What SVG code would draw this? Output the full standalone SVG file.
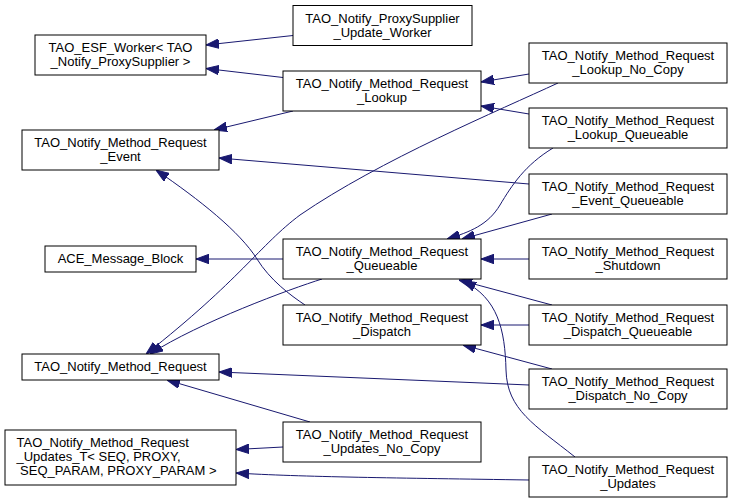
<svg xmlns="http://www.w3.org/2000/svg" width="732" height="504" viewBox="0 0 732 504">
<style>
.n rect{fill:#fff;stroke:#000;stroke-width:1}
.n text{font-family:"Liberation Sans",Arial,Helvetica,sans-serif;font-size:13px;fill:#000;text-anchor:middle}
.n text.l{text-anchor:start}
#edges path{fill:none;stroke:#191970;stroke-width:1;marker-end:url(#ah)}
</style>
<defs>
<marker id="ah" markerUnits="userSpaceOnUse" markerWidth="13" markerHeight="10" refX="13" refY="4.75" orient="auto" viewBox="0 0 13 9.5">
<path d="M0,0 L13,4.75 L0,9.5 z" fill="#191970" stroke="#191970" stroke-width="1"/>
</marker>
</defs>
<rect width="732" height="504" fill="#fff"/>
<g id="edges">
<path d="M293,35.5 L206,45"/>
<path d="M283,77.5 L206,68.5"/>
<path d="M293,111 L214,130"/>
<path d="M529,184 L219,158"/>
<path d="M283,259 L196,259"/>
<path d="M305,305 C290,295 270,280 257,259 C240,232 200,200 156,170"/>
<path d="M322,279 C290,289 200,322 150,354"/>
<path d="M558,83 C500,110 380,160 300,215 C260,245 240,280 146,354"/>
<path d="M529,74 L481,82"/>
<path d="M529,114 L481,106"/>
<path d="M553,148 C525,165 512,185 500,205 C488,225 470,232 447,239"/>
<path d="M552,214 L462,239"/>
<path d="M529,259 L481,259"/>
<path d="M552,305 L459,280"/>
<path d="M575,457 C535,425 507,410 506,370 C505,330 498,298 463,281"/>
<path d="M529,325 L481,325"/>
<path d="M552,369 L463,345"/>
<path d="M529,385 L219,372"/>
<path d="M310,422 L167,380"/>
<path d="M283,447 L236,449.5"/>
<path d="M529,480 C400,478 300,477 236,473"/>
</g>
<g id="n_esf" class="n"><rect x="35" y="35" width="171" height="40"/><text x="120.5" y="51.5">TAO_ESF_Worker&lt; TAO</text><text x="120.5" y="65.5">_Notify_ProxySupplier &gt;</text></g>
<g id="n_event" class="n"><rect x="22" y="130" width="197" height="40"/><text x="120.5" y="146.5">TAO_Notify_Method_Request</text><text x="120.5" y="160.5">_Event</text></g>
<g id="n_ace" class="n"><rect x="45" y="246" width="151" height="26"/><text x="120.5" y="263">ACE_Message_Block</text></g>
<g id="n_mr" class="n"><rect x="22" y="354" width="197" height="26"/><text x="120.5" y="371">TAO_Notify_Method_Request</text></g>
<g id="n_updt" class="n"><rect x="5" y="430" width="231" height="55"/><text class="l" x="16.5" y="447">TAO_Notify_Method_Request</text><text class="l" x="16.5" y="461">_Updates_T&lt; SEQ, PROXY,</text><text class="l" x="20.1" y="475">SEQ_PARAM, PROXY_PARAM &gt;</text></g>
<g id="n_pusw" class="n"><rect x="293" y="5.5" width="179" height="40"/><text x="382.5" y="22.5">TAO_Notify_ProxySupplier</text><text x="382.5" y="36.5">_Update_Worker</text></g>
<g id="n_lookup" class="n"><rect x="283" y="71" width="198" height="40"/><text x="382" y="87.5">TAO_Notify_Method_Request</text><text x="382" y="101.5">_Lookup</text></g>
<g id="n_queueable" class="n"><rect x="283" y="239" width="198" height="40"/><text x="382" y="255.5">TAO_Notify_Method_Request</text><text x="382" y="269.5">_Queueable</text></g>
<g id="n_dispatch" class="n"><rect x="283" y="305" width="198" height="40"/><text x="382" y="321.5">TAO_Notify_Method_Request</text><text x="382" y="335.5">_Dispatch</text></g>
<g id="n_updnc" class="n"><rect x="283" y="422" width="198" height="40"/><text x="382" y="438.5">TAO_Notify_Method_Request</text><text x="382" y="452.5">_Updates_No_Copy</text></g>
<g id="n_lnc" class="n"><rect x="529" y="43" width="198" height="40"/><text x="628" y="59.5">TAO_Notify_Method_Request</text><text x="628" y="73.5">_Lookup_No_Copy</text></g>
<g id="n_lq" class="n"><rect x="529" y="108" width="198" height="40"/><text x="628" y="124.5">TAO_Notify_Method_Request</text><text x="628" y="138.5">_Lookup_Queueable</text></g>
<g id="n_eq" class="n"><rect x="529" y="174" width="198" height="40"/><text x="628" y="190.5">TAO_Notify_Method_Request</text><text x="628" y="204.5">_Event_Queueable</text></g>
<g id="n_shutdown" class="n"><rect x="529" y="239" width="198" height="40"/><text x="628" y="255.5">TAO_Notify_Method_Request</text><text x="628" y="269.5">_Shutdown</text></g>
<g id="n_dq" class="n"><rect x="529" y="305" width="198" height="40"/><text x="628" y="321.5">TAO_Notify_Method_Request</text><text x="628" y="335.5">_Dispatch_Queueable</text></g>
<g id="n_dnc" class="n"><rect x="529" y="369" width="198" height="40"/><text x="628" y="385.5">TAO_Notify_Method_Request</text><text x="628" y="399.5">_Dispatch_No_Copy</text></g>
<g id="n_upd" class="n"><rect x="529" y="457" width="198" height="40"/><text x="628" y="473.5">TAO_Notify_Method_Request</text><text x="628" y="487.5">_Updates</text></g>
</svg>
